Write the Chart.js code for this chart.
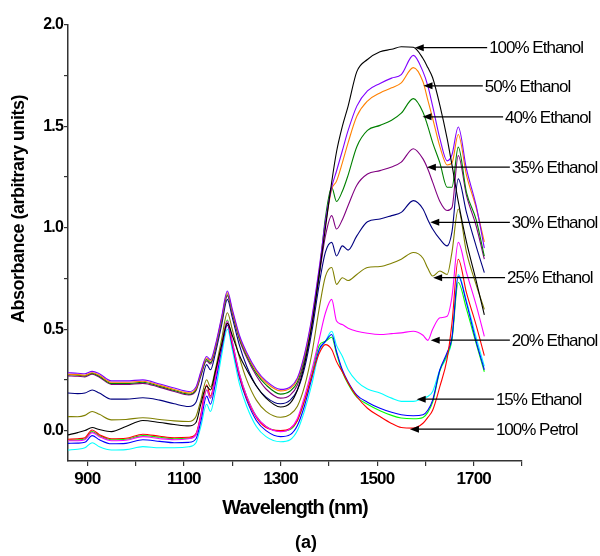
<!DOCTYPE html>
<html>
<head>
<meta charset="utf-8">
<script src="https://cdn.jsdelivr.net/npm/chart.js@4.4.1/dist/chart.umd.min.js"></script>
<style>
  html, body { margin: 0; padding: 0; background: #fff; }
  #chart { display: block; }
</style>
</head>
<body>
<canvas id="chart" width="600" height="556"></canvas>
<script>
// wavelength grid shared by every spectrum (nm)
const wavelengths = [860, 880, 895, 910, 925, 950, 980, 1015, 1050, 1080,
    1110, 1125, 1135, 1147, 1155, 1165, 1178, 1190, 1200, 1215,
    1230, 1250, 1270, 1300, 1320, 1335, 1350, 1365, 1380, 1393,
    1406, 1416, 1428, 1440, 1458, 1480, 1506, 1530, 1550, 1575,
    1595, 1605, 1615, 1630, 1645, 1655, 1668, 1685, 1705, 1722];

const ethanol100 = [-0.021, -0.010, 0.000, 0.015, 0.005, -0.005, 0.020, 0.050, 0.040, 0.030,
    0.023, 0.040, 0.130, 0.220, 0.200, 0.290, 0.420, 0.530, 0.470, 0.370,
    0.300, 0.220, 0.160, 0.116, 0.135, 0.200, 0.330, 0.520, 0.770, 1.000,
    1.226, 1.375, 1.500, 1.600, 1.770, 1.830, 1.868, 1.880, 1.893, 1.890,
    1.835, 1.790, 1.740, 1.604, 1.440, 1.310, 1.130, 0.930, 0.740, 0.570];

const violetTrace = [0.285, 0.283, 0.280, 0.292, 0.280, 0.245, 0.245, 0.250, 0.230, 0.210,
    0.193, 0.215, 0.290, 0.365, 0.350, 0.420, 0.560, 0.688, 0.600, 0.470,
    0.385, 0.300, 0.245, 0.203, 0.215, 0.260, 0.380, 0.560, 0.800, 1.030,
    1.200, 1.280, 1.380, 1.480, 1.600, 1.675, 1.712, 1.738, 1.755, 1.850,
    1.770, 1.700, 1.600, 1.440, 1.330, 1.360, 1.497, 1.290, 1.110, 0.900];

const ethanol50 = [0.278, 0.276, 0.273, 0.285, 0.273, 0.238, 0.238, 0.243, 0.223, 0.203,
    0.186, 0.208, 0.283, 0.358, 0.343, 0.413, 0.553, 0.680, 0.592, 0.462,
    0.377, 0.292, 0.237, 0.196, 0.208, 0.253, 0.373, 0.550, 0.790, 1.015,
    1.190, 1.230, 1.320, 1.420, 1.550, 1.625, 1.665, 1.690, 1.715, 1.790,
    1.720, 1.630, 1.540, 1.400, 1.310, 1.320, 1.460, 1.260, 1.100, 0.930];

const ethanol40 = [0.276, 0.273, 0.270, 0.282, 0.268, 0.232, 0.232, 0.238, 0.218, 0.198,
    0.180, 0.202, 0.275, 0.350, 0.335, 0.405, 0.545, 0.670, 0.585, 0.455,
    0.370, 0.282, 0.225, 0.180, 0.195, 0.240, 0.360, 0.535, 0.770, 1.050,
    1.200, 1.130, 1.180, 1.260, 1.400, 1.480, 1.505, 1.530, 1.565, 1.637,
    1.570, 1.500, 1.420, 1.320, 1.200, 1.200, 1.398, 1.175, 1.040, 0.860];

const ethanol35 = [0.270, 0.268, 0.265, 0.278, 0.263, 0.228, 0.228, 0.233, 0.213, 0.193,
    0.176, 0.197, 0.268, 0.343, 0.328, 0.398, 0.538, 0.665, 0.578, 0.448,
    0.360, 0.270, 0.205, 0.160, 0.175, 0.225, 0.345, 0.520, 0.760, 0.960,
    1.060, 0.994, 1.040, 1.110, 1.210, 1.265, 1.282, 1.300, 1.324, 1.390,
    1.340, 1.290, 1.225, 1.130, 1.085, 1.100, 1.356, 1.160, 1.010, 0.845];

const ethanol30 = [0.185, 0.182, 0.185, 0.200, 0.185, 0.155, 0.155, 0.162, 0.150, 0.132,
    0.119, 0.140, 0.220, 0.325, 0.300, 0.380, 0.520, 0.647, 0.560, 0.420,
    0.317, 0.220, 0.165, 0.132, 0.150, 0.200, 0.310, 0.490, 0.720, 0.880,
    0.928, 0.861, 0.911, 0.890, 0.960, 1.030, 1.043, 1.060, 1.076, 1.134,
    1.093, 1.040, 0.994, 0.944, 0.911, 0.980, 1.241, 1.076, 0.910, 0.779];

const ethanol25 = [0.069, 0.068, 0.075, 0.094, 0.080, 0.053, 0.055, 0.063, 0.055, 0.048,
    0.045, 0.070, 0.150, 0.251, 0.215, 0.300, 0.450, 0.581, 0.500, 0.360,
    0.250, 0.150, 0.095, 0.066, 0.080, 0.120, 0.220, 0.380, 0.600, 0.760,
    0.804, 0.721, 0.754, 0.740, 0.770, 0.804, 0.809, 0.825, 0.845, 0.878,
    0.850, 0.800, 0.762, 0.787, 0.770, 0.880, 1.093, 0.880, 0.720, 0.598];

const ethanol20 = [-0.050, -0.050, -0.045, -0.010, -0.030, -0.050, -0.048, -0.030, -0.040, -0.045,
    -0.040, -0.020, 0.070, 0.200, 0.160, 0.260, 0.420, 0.540, 0.440, 0.280,
    0.170, 0.070, 0.020, -0.005, 0.010, 0.060, 0.170, 0.300, 0.450, 0.580,
    0.647, 0.540, 0.523, 0.505, 0.490, 0.480, 0.474, 0.478, 0.482, 0.490,
    0.470, 0.445, 0.500, 0.556, 0.564, 0.660, 0.928, 0.780, 0.620, 0.465];

const ethanol15 = [-0.096, -0.092, -0.085, -0.060, -0.080, -0.096, -0.094, -0.079, -0.085, -0.085,
    -0.080, -0.060, 0.020, 0.130, 0.094, 0.190, 0.370, 0.500, 0.400, 0.230,
    0.120, 0.020, -0.030, -0.055, -0.045, 0.000, 0.100, 0.230, 0.390, 0.440,
    0.490, 0.420, 0.366, 0.300, 0.243, 0.205, 0.185, 0.160, 0.144, 0.144,
    0.160, 0.168, 0.193, 0.300, 0.366, 0.450, 0.770, 0.640, 0.460, 0.317];

const blueTrace = [-0.063, -0.062, -0.058, -0.025, -0.045, -0.065, -0.063, -0.045, -0.053, -0.060,
    -0.058, -0.040, 0.045, 0.170, 0.130, 0.230, 0.400, 0.520, 0.420, 0.260,
    0.150, 0.050, 0.000, -0.030, -0.020, 0.025, 0.125, 0.260, 0.400, 0.440,
    0.474, 0.390, 0.300, 0.240, 0.175, 0.140, 0.110, 0.090, 0.078, 0.073,
    0.078, 0.100, 0.150, 0.300, 0.385, 0.460, 0.762, 0.630, 0.440, 0.300];

const limeTrace = [-0.048, -0.046, -0.042, -0.005, -0.025, -0.045, -0.043, -0.025, -0.033, -0.040,
    -0.038, -0.020, 0.070, 0.200, 0.160, 0.260, 0.420, 0.545, 0.440, 0.280,
    0.170, 0.070, 0.020, -0.003, 0.005, 0.050, 0.150, 0.280, 0.420, 0.440,
    0.460, 0.380, 0.290, 0.230, 0.165, 0.130, 0.098, 0.075, 0.062, 0.058,
    0.065, 0.090, 0.140, 0.295, 0.375, 0.450, 0.730, 0.600, 0.430, 0.290];

const petrol100 = [-0.043, -0.040, -0.035, 0.003, -0.020, -0.040, -0.038, -0.018, -0.028, -0.035,
    -0.033, -0.015, 0.080, 0.226, 0.170, 0.270, 0.420, 0.530, 0.430, 0.270,
    0.160, 0.065, 0.015, 0.000, 0.010, 0.050, 0.150, 0.270, 0.380, 0.424,
    0.400, 0.340, 0.290, 0.235, 0.168, 0.110, 0.069, 0.035, 0.015, 0.012,
    0.036, 0.065, 0.100, 0.218, 0.355, 0.530, 0.845, 0.680, 0.520, 0.370];

// arrow callouts: label, arrow tip (nm, absorbance), text start (nm)
const calloutLabels = ['100% Ethanol', '50% Ethanol', '40% Ethanol', '35% Ethanol', '30% Ethanol',
    '25% Ethanol', '20% Ethanol', '15% Ethanol', '100% Petrol'];
const calloutTipX = [1578, 1596, 1594, 1603, 1610, 1616, 1611, 1582, 1568];
const calloutTipY = [1.888, 1.70, 1.547, 1.299, 1.027, 0.754, 0.446, 0.155, 0.007];
const calloutTextX = [1732, 1723, 1765, 1779, 1779, 1769, 1779, 1746, 1746];

const series = [
    { name: '100% Ethanol', values: ethanol100, color: '#000000' },
    { name: 'Violet trace', values: violetTrace, color: '#8000FF' },
    { name: '50% Ethanol', values: ethanol50, color: '#FF8000' },
    { name: '40% Ethanol', values: ethanol40, color: '#008000' },
    { name: '35% Ethanol', values: ethanol35, color: '#800080' },
    { name: '30% Ethanol', values: ethanol30, color: '#000080' },
    { name: '25% Ethanol', values: ethanol25, color: '#808000' },
    { name: '20% Ethanol', values: ethanol20, color: '#FF00FF' },
    { name: '100% Petrol', values: petrol100, color: '#FF0000' },
    { name: 'Blue trace', values: blueTrace, color: '#0000FF' },
    { name: 'Lime trace', values: limeTrace, color: '#00FF00' },
    { name: '15% Ethanol', values: ethanol15, color: '#00FFFF' }
];

const FONT = '"Liberation Sans", Arial, sans-serif';

const decorations = {
    id: 'decorations',
    beforeDraw(chart) {
        chart.ctx.letterSpacing = '-0.8px';
    },
    afterDatasetsDraw(chart) {
        const { ctx, scales: { x, y }, chartArea } = chart;
        ctx.save();
        ctx.fillStyle = '#000';
        ctx.strokeStyle = '#000';
        ctx.lineWidth = 1.2;
        ctx.font = '17px ' + FONT;
        ctx.letterSpacing = '-1px';
        ctx.textAlign = 'left';
        ctx.textBaseline = 'middle';
        calloutLabels.forEach((label, i) => {
            const tx = x.getPixelForValue(calloutTipX[i]);
            const ty = y.getPixelForValue(calloutTipY[i]);
            const sx = x.getPixelForValue(calloutTextX[i]);
            ctx.beginPath();
            ctx.moveTo(tx + 6, ty);
            ctx.lineTo(sx - 2, ty);
            ctx.stroke();
            ctx.beginPath();
            ctx.moveTo(tx, ty);
            ctx.lineTo(tx + 9, ty - 3.5);
            ctx.lineTo(tx + 9, ty + 3.5);
            ctx.closePath();
            ctx.fill();
            ctx.fillText(label, sx, ty + 1);
        });

        // axis titles and panel letter
        ctx.textAlign = 'center';
        ctx.font = 'bold 20px ' + FONT;
        ctx.letterSpacing = '-1px';
        ctx.fillText('Wavelength (nm)', (chartArea.left + chartArea.right) / 2, 508);
        ctx.font = 'bold 18px ' + FONT;
        ctx.letterSpacing = '0px';
        ctx.fillText('(a)', 306, 543);
        ctx.translate(19, 209);
        ctx.rotate(-Math.PI / 2);
        ctx.font = 'bold 18px ' + FONT;
        ctx.letterSpacing = '-0.5px';
        ctx.fillText('Absorbance (arbitrary units)', 0, 0);
        ctx.restore();
    }
};

function initializeSpectraChart() {
    const ctx = document.getElementById('chart').getContext('2d');
    new Chart(ctx, {
        type: 'line',
        data: {
            datasets: series.map(s => ({
                label: s.name,
                data: wavelengths.map((w, i) => ({ x: w, y: s.values[i] })),
                borderColor: s.color,
                borderWidth: 1.1,
                pointRadius: 0,
                fill: false,
                cubicInterpolationMode: 'monotone'
            }))
        },
        options: {
            responsive: false,
            animation: false,
            layout: { padding: { top: 25, right: 78, left: 0, bottom: 0 } },
            plugins: { legend: { display: false }, tooltip: { enabled: false } },
            scales: {
                x: {
                    type: 'linear',
                    min: 860,
                    max: 1800,
                    afterFit: scale => { scale.height = 95; },
                    border: { color: '#333', width: 1.5 },
                    grid: { drawOnChartArea: false, drawTicks: true, tickLength: 5, color: '#333', lineWidth: 1.2 },
                    ticks: {
                        stepSize: 100,
                        includeBounds: false,
                        autoSkip: false,
                        maxRotation: 0,
                        padding: 3,
                        color: '#000',
                        font: { family: FONT, size: 17, weight: 'bold' },
                        callback: value => (value % 200 === 100 ? String(value) : '')
                    }
                },
                y: {
                    min: -0.15,
                    max: 2.0,
                    afterFit: scale => { scale.width = 68; },
                    border: { color: '#333', width: 1.5 },
                    grid: { drawOnChartArea: false, drawTicks: true, tickLength: 4, color: '#333', lineWidth: 1.2 },
                    ticks: {
                        stepSize: 0.25,
                        includeBounds: false,
                        autoSkip: false,
                        padding: 1,
                        color: '#000',
                        font: { family: FONT, size: 16, weight: 'bold' },
                        callback: value => {
                            const half = value * 2;
                            return Math.abs(half - Math.round(half)) < 1e-6 ? value.toFixed(1) : '';
                        }
                    }
                }
            }
        },
        plugins: [decorations]
    });
}

document.addEventListener('DOMContentLoaded', initializeSpectraChart);
</script>
</body>
</html>
